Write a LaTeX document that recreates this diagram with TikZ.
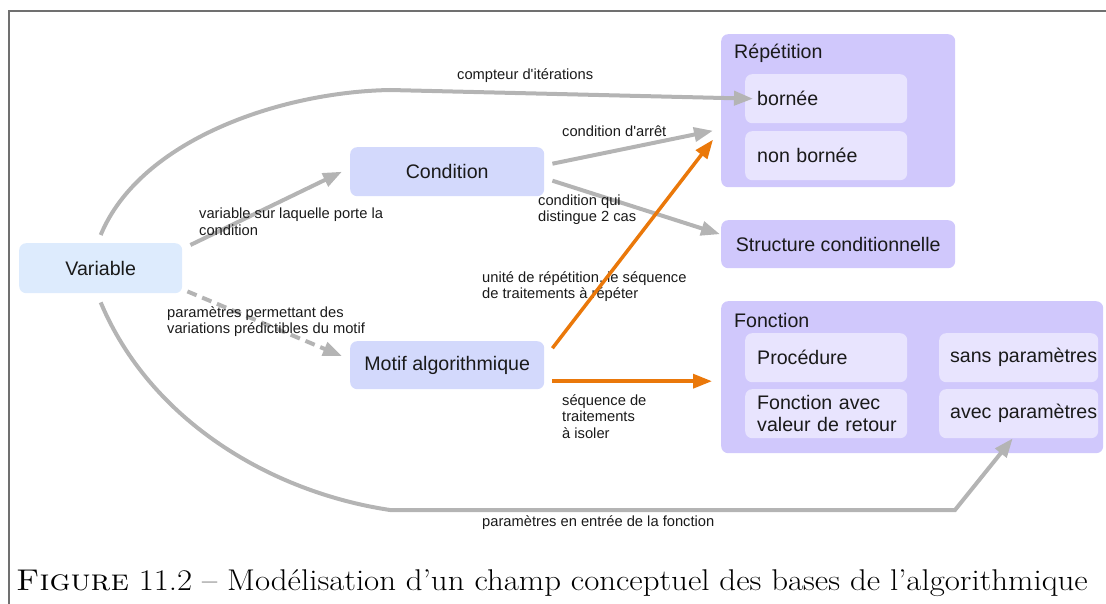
\documentclass[tikz,border=0pt]{standalone}
\usepackage{fontspec}
\newfontfamily\diafont{Liberation Sans}
\usetikzlibrary{arrows.meta}
\definecolor{varfill}{RGB}{221,235,253}
\definecolor{condfill}{RGB}{211,217,252}
\definecolor{groupfill}{RGB}{208,200,252}
\definecolor{itemfill}{RGB}{232,228,254}
\definecolor{arrowgray}{RGB}{180,180,180}
\definecolor{arroworange}{RGB}{234,120,10}
\definecolor{framegray}{RGB}{112,112,112}
\definecolor{textcol}{RGB}{26,26,26}

\begin{document}
\begin{tikzpicture}[x=1pt,y=-1pt,
every node/.style={text=textcol,inner sep=0pt,font=\diafont\fontsize{19.6}{22.5}\selectfont},
box/.style={fill=#1,rounded corners=7pt,anchor=north west},
item/.style={box=itemfill,minimum height=49pt,text width=#1,align=left},
lab/.style={anchor=west,align=left,font=\diafont\fontsize{14.7}{16.6}\selectfont},
garrow/.style={draw=arrowgray,line width=4pt,-{Triangle[length=19pt,width=14pt]}},
oarrow/.style={draw=arroworange,line width=3.5pt,-{Triangle[length=19pt,width=14pt]}}
]
\useasboundingbox (0,0) rectangle (1106,604);
\clip (0,0) rectangle (1106,604);
\draw[framegray,line width=2pt] (1110,11) -- (8.5,11) -- (8.5,610);

\node[box=varfill,minimum width=163pt,minimum height=50pt] (var) at (19,243) {Variable};
\node[box=condfill,minimum width=194pt,minimum height=49pt] (cond) at (350,147) {Condition};
\node[box=condfill,minimum width=194pt,minimum height=48pt] (motif) at (350,341) {Motif algorithmique};

\node[box=groupfill,minimum width=234pt,minimum height=153pt] (rep) at (721,34) {};
\node[anchor=west] (reptitle) at (734,53) {Répétition};
\node[item=138pt,inner xsep=12pt] (bornee) at (745,74) {bornée};
\node[item=138pt,inner xsep=12pt] (nonbornee) at (745,131) {non bornée};

\node[box=groupfill,minimum width=234pt,minimum height=48pt] (struct) at (721,220) {Structure conditionnelle};

\node[box=groupfill,minimum width=382pt,minimum height=152pt] (fonc) at (721,301) {};
\node[anchor=west] (fonctitle) at (734,320) {Fonction};
\node[item=138pt,inner xsep=12pt] (proc) at (745,333) {Procédure};
\node[item=138pt,inner xsep=12pt] (fval) at (745,389) {\mbox{Fonction avec}\\\mbox{valeur de retour}};
\node[item=157pt,inner xsep=1pt,align=right] (sansp) at (939,333) {sans paramètres};
\node[item=157pt,inner xsep=1pt,align=right] (avecp) at (939,389) {avec paramètres};

\coordinate (topbend) at (390,90);
\coordinate (botbend) at (390,510);
\coordinate (botcorner) at (955,510);

\draw[garrow] ([yshift=8pt]var.north) .. controls (140,140) and (280,92) .. (topbend) -- ([xshift=8pt]bornee.west);
\draw[garrow] ([yshift=-9pt]var.south) .. controls (150,420) and (270,492) .. (botbend) -- (botcorner) -- ([xshift=-6pt]avecp.south);
\draw[garrow] ([shift={(8,2)}]var.north east) -- ([xshift=-8pt]cond.west);
\draw[garrow,dash pattern=on 10pt off 6pt] ([shift={(5,-2)}]var.south east) -- ([shift={(-8,-9)}]motif.west);
\draw[garrow] ([shift={(8,-8)}]cond.east) -- ([shift={(-8,20)}]rep.west);
\draw[garrow] ([shift={(8,9)}]cond.east) -- ([shift={(-1,-10)}]struct.west);

\node[lab] (lcompt) at (457,76) {compteur d'itérations};
\node[lab] (larret) at (562,131) {condition d'arrêt};
\node[lab] (lqui) at (538,209.5) {condition qui\\distingue 2 cas};
\node[lab] (lvarcond) at (199,222) {variable sur laquelle porte la\\condition};
\node[lab] (lunite) at (482,286.5) {unité de répétition, ie séquence\\de traitements à répéter};
\node[lab] (lparam) at (167,321.5) {paramètres permettant des\\variations prédictibles du motif};
\node[lab] (lseq) at (562,416.5) {séquence de\\traitements\\à isoler};
\node[lab] (lentree) at (482,523) {paramètres en entrée de la fonction};

\draw[oarrow] ([shift={(8,-17)}]motif.east) -- ([shift={(-8,29)}]rep.west);
\draw[oarrow] ([shift={(8,16)}]motif.east) -- ([shift={(-9,4)}]fonc.west);

\node[anchor=base west,text=black,font=\rmfamily\fontsize{30}{34}\selectfont] (caption) at (16,590)
  {\scalebox{1.095}[1]{\textsc{Figure} 11.2 – Modélisation d’un champ conceptuel des bases de l’algorithmique}};
\end{tikzpicture}
\end{document}
